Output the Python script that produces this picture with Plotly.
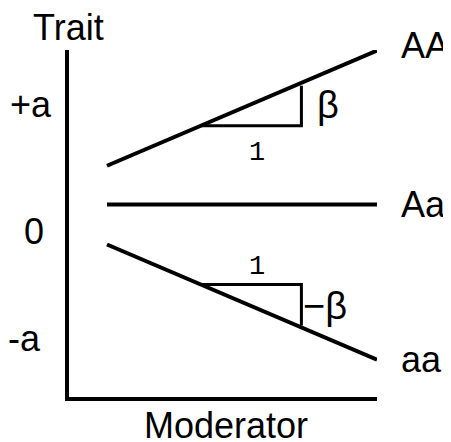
import plotly.graph_objects as go

# Reaction norms: trait value of each genotype at the two ends of the moderator range
moderator = [0.0, 1.0]
genotypes = ['AA', 'Aa', 'aa']
trait_start = [0.50, 0.17, -0.17]
trait_end = [1.48, 0.17, -1.15]
label_y = [1.52, 0.17, -1.145]

# slope triangles (open path: corner -> right -> up/down)
tri_up_x = [0.35, 0.72, 0.72]
tri_up_y = [0.84, 0.84, 1.18]
tri_down_x = [0.34, 0.72, 0.72]
tri_down_y = [-0.51, -0.51, -0.86]

# y tick labels
tick_text = ['+a', '0', '-a']
tick_vals = [1.02, -0.06, -0.97]

FONT = 'Liberation Sans, Arial, sans-serif'
MONO = 'Liberation Mono, Courier New, monospace'
Y_RANGE = [-1.468, 1.485]


def to_paper(y):
    # annotations outside the axis range get hidden, so place them in paper units
    return (y - Y_RANGE[0]) / (Y_RANGE[1] - Y_RANGE[0])


fig = go.Figure()

for name, y0, y1 in zip(genotypes, trait_start, trait_end):
    fig.add_trace(go.Scatter(
        x=moderator, y=[y0, y1], mode='lines', name=name,
        line=dict(color='black', width=4), cliponaxis=False,
        hoverinfo='skip'
    ))

for tx, ty in [(tri_up_x, tri_up_y), (tri_down_x, tri_down_y)]:
    fig.add_trace(go.Scatter(
        x=tx, y=ty, mode='lines',
        line=dict(color='black', width=3), cliponaxis=False,
        hoverinfo='skip'
    ))

ann = []
# genotype labels at the right end of each line
for name, y in zip(genotypes, label_y):
    ann.append(dict(x=1.071, xref='paper', y=to_paper(y), yref='paper', text=name,
                    xanchor='left', yanchor='middle', showarrow=False,
                    font=dict(family=FONT, size=36, color='black')))
# y tick labels
for t, v, px in zip(tick_text, tick_vals, [-0.122, -0.114, -0.143]):
    ann.append(dict(x=px, xref='paper', y=to_paper(v), yref='paper', text=t,
                    xanchor='center', yanchor='middle', showarrow=False,
                    font=dict(family=FONT, size=36, color='black')))

# slope labels
ann += [
    dict(x=0.556, y=0.61, text='1', font=dict(family=MONO, size=27)),
    dict(x=0.817, y=1.02, text='β', font=dict(family=FONT, size=38)),
    dict(x=0.556, y=-0.36, text='1', font=dict(family=MONO, size=27)),
    dict(x=0.807, y=-0.69, text='−β', font=dict(family=FONT, size=38)),
]
for a in ann[-4:]:
    a.update(xref='x', yref='y', showarrow=False, xanchor='center', yanchor='middle')
    a['font']['color'] = 'black'

# axis titles
ann.append(dict(x=-0.003, xref='paper', y=1.065, yref='paper', text='Trait',
                xanchor='center', yanchor='middle', showarrow=False,
                font=dict(family=FONT, size=36, color='black')))
ann.append(dict(x=0.51, xref='paper', y=-0.081, yref='paper', text='Moderator',
                xanchor='center', yanchor='middle', showarrow=False,
                font=dict(family=FONT, size=36, color='black')))

# page body adds an 8px offset, so the figure is 8px smaller than the window
fig.update_layout(
    width=443, height=434,
    margin=dict(l=61, r=74, t=42, b=45),
    showlegend=False,
    paper_bgcolor='white',
    plot_bgcolor='white',
    annotations=ann,
    xaxis=dict(range=[-0.1407, 1.0], showline=True, linecolor='black', linewidth=4,
               showgrid=False, zeroline=False, showticklabels=False, ticks=''),
    yaxis=dict(range=Y_RANGE, showline=True, linecolor='black', linewidth=4,
               showgrid=False, zeroline=False, showticklabels=False, ticks=''),
)

fig.write_html("out.html")
